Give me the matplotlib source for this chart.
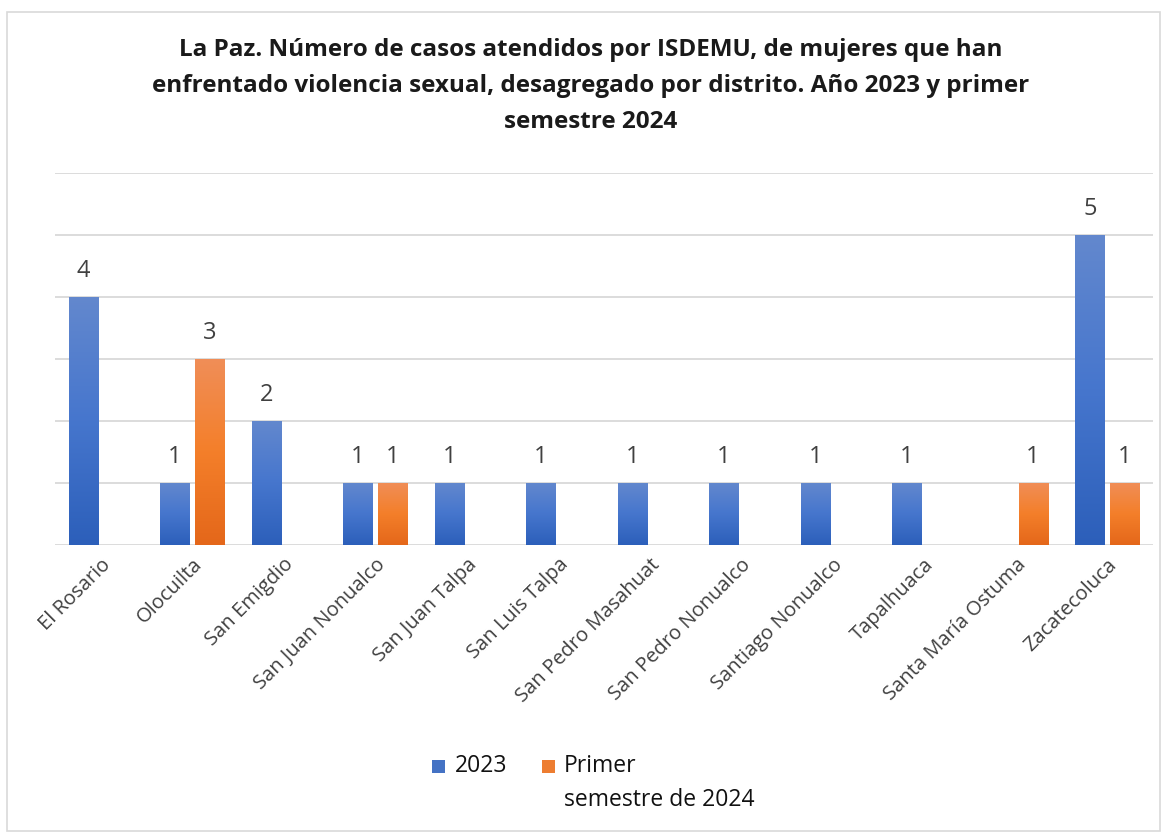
import numpy as np
import matplotlib.pyplot as plt
from matplotlib.patches import Rectangle
from matplotlib.colors import LinearSegmentedColormap

plt.rcParams['font.family'] = ['Open Sans', 'DejaVu Sans']

distritos = ["El Rosario", "Olocuilta", "San Emigdio", "San Juan Nonualco", "San Juan Talpa",
             "San Luis Talpa", "San Pedro Masahuat", "San Pedro Nonualco", "Santiago Nonualco",
             "Tapalhuaca", "Santa María Ostuma", "Zacatecoluca"]
casos_2023 = [4, 1, 2, 1, 1, 1, 1, 1, 1, 1, None, 5]
casos_2024 = [None, 3, None, 1, None, None, None, None, None, None, 1, 1]

titulo = ("La Paz. Número de casos atendidos por ISDEMU, de mujeres que han\n"
          "enfrentado violencia sexual, desagregado por distrito. Año 2023 y primer\n"
          "semestre 2024")

azul = LinearSegmentedColormap.from_list("azul", ["#2c5fba", "#4676cd", "#6388ce"])
naranja = LinearSegmentedColormap.from_list("naranja", ["#e4671a", "#f47f2a", "#f08e58"])

fig = plt.figure(figsize=(11.67, 8.34), dpi=100)
fig.patches.append(Rectangle((0.006, 0.004), 0.988, 0.982, transform=fig.transFigure,
                             fill=False, edgecolor="#d9d9d9", linewidth=1.2))
ax = fig.add_axes([0.047, 0.3465, 0.941, 0.4461])

x = np.arange(len(distritos))
w = 0.317
off = 0.19


def barras(vals, shift, cmap):
    grad = np.linspace(0, 1, 256).reshape(-1, 1)
    for xi, v in zip(x, vals):
        if v is None:
            continue
        bar = ax.bar(xi + shift, v, w, color="none", zorder=3)[0]
        im = ax.imshow(grad, cmap=cmap, aspect="auto", origin="lower",
                       extent=[xi + shift - w / 2, xi + shift + w / 2, 0, v], zorder=3)
        im.set_clip_path(bar)
        ax.text(xi + shift, v + 0.42, str(v), ha="center", va="center",
                fontsize=17, color="#404040")


barras(casos_2023, -off, azul)
barras(casos_2024, off, naranja)

ax.set_xlim(-0.5, len(distritos) - 0.5)
ax.set_ylim(0, 6)
ax.set_yticks(range(0, 7))
ax.set_yticklabels([])
ax.tick_params(axis="y", length=0)
ax.tick_params(axis="x", length=0, pad=7)
ax.grid(axis="y", color="#d9d9d9", linewidth=1.3, zorder=0)
for s in ax.spines.values():
    s.set_visible(False)
ax.set_xticks(x)
ax.set_xticklabels(distritos, rotation=45, ha="right", rotation_mode="anchor",
                   fontsize=14.5, color="#404040")

fig.text(0.506, 0.955, titulo, ha="center", va="top", fontsize=17.5,
         fontweight="bold", color="#1a1a1a", linespacing=1.68)

# leyenda
fig.patches.append(Rectangle((432 / 1167, 1 - 773 / 834), 13 / 1167, 13 / 834,
                             transform=fig.transFigure, facecolor="#4472c4"))
fig.text(455 / 1167, 1 - 766 / 834, "2023", ha="left", va="center", fontsize=16.5, color="#111111")
fig.patches.append(Rectangle((542 / 1167, 1 - 773 / 834), 13 / 1167, 13 / 834,
                             transform=fig.transFigure, facecolor="#ed7d31"))
fig.text(564 / 1167, 1 - 766 / 834, "Primer", ha="left", va="center", fontsize=16.5, color="#111111")
fig.text(564 / 1167, 1 - 800 / 834, "semestre de 2024", ha="left", va="center", fontsize=16.5,
         color="#111111")

fig.savefig("out.png", dpi=100)
